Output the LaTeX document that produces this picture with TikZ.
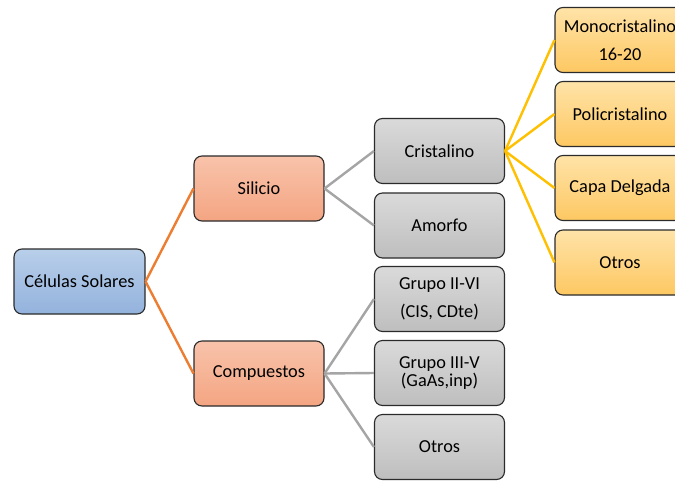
\documentclass[tikz,border=0pt]{standalone}
\usepackage{fontspec}
\setmainfont{Carlito}
\definecolor{blueTop}{HTML}{B9CFEA}
\definecolor{blueBot}{HTML}{93B2DC}
\definecolor{salTop}{HTML}{F8C3AB}
\definecolor{salBot}{HTML}{F4A582}
\definecolor{grayTop}{HTML}{DADADA}
\definecolor{grayBot}{HTML}{BEBEBE}
\definecolor{yelTop}{HTML}{FFE3A8}
\definecolor{yelBot}{HTML}{FDC862}
\definecolor{lnOrange}{HTML}{ED7D31}
\definecolor{lnGray}{HTML}{A5A5A5}
\definecolor{lnYellow}{HTML}{FFC000}
\definecolor{edge}{HTML}{2B2B2B}
\tikzset{
  box/.style={draw=edge, line width=1.1pt, rounded corners=8pt,
    minimum width=130pt, minimum height=65pt, inner sep=0pt,
    align=center, font=\fontsize{18.3}{21.5}\selectfont},
  bluebox/.style={box, top color=blueTop, bottom color=blueBot},
  salbox/.style={box, top color=salTop, bottom color=salBot},
  graybox/.style={box, top color=grayTop, bottom color=grayBot},
  yelbox/.style={box, top color=yelTop, bottom color=yelBot},
  orangeline/.style={draw=lnOrange, line width=2.4pt},
  grayline/.style={draw=lnGray, line width=2.4pt},
  yellowline/.style={draw=lnYellow, line width=2.4pt}
}
\begin{document}
\begin{tikzpicture}[x=1pt, y=-1pt]
\useasboundingbox (0,0) rectangle (675,480);
\clip (0,0) rectangle (675,480);
\fill[white] (0,0) rectangle (675,480);

% root
\node[bluebox, minimum width=131pt] (root) at (79.5,281.5) {Células Solares};

% second level
\node[salbox] (sil) at (259,188.5) {Silicio};
\node[salbox] (comp) at (259,373.5) {Compuestos};

% third level
\node[graybox] (cris) at (439.5,151) {Cristalino};
\node[graybox] (amor) at (439.5,225.5) {Amorfo};
\node[graybox] (g26) at (439.5,299) {Grupo II-VI\\[7pt](CIS, CDte)};
\node[graybox] (g35) at (439.5,373) {Grupo III-V\\[-4pt](GaAs,inp)};
\node[graybox] (otg) at (439.5,447) {Otros};

% fourth level (runs past the right edge)
\node[yelbox] (mono) at (620,40) {Monocristalino\\[7pt]16-20};
\node[yelbox] (poli) at (620,114) {Policristalino};
\node[yelbox] (capa) at (620,188) {Capa Delgada};
\node[yelbox] (oty) at (620,262.5) {Otros};

% connectors
\draw[orangeline] (root.east) -- (sil.west);
\draw[orangeline] (root.east) -- (comp.west);
\draw[grayline] (sil.east) -- (cris.west);
\draw[grayline] (sil.east) -- (amor.west);
\draw[grayline] (comp.east) -- (g26.west);
\draw[grayline] (comp.east) -- (g35.west);
\draw[grayline] (comp.east) -- (otg.west);
\draw[yellowline] (cris.east) -- (mono.west);
\draw[yellowline] (cris.east) -- (poli.west);
\draw[yellowline] (cris.east) -- (capa.west);
\draw[yellowline] (cris.east) -- (oty.west);
\end{tikzpicture}
\end{document}
